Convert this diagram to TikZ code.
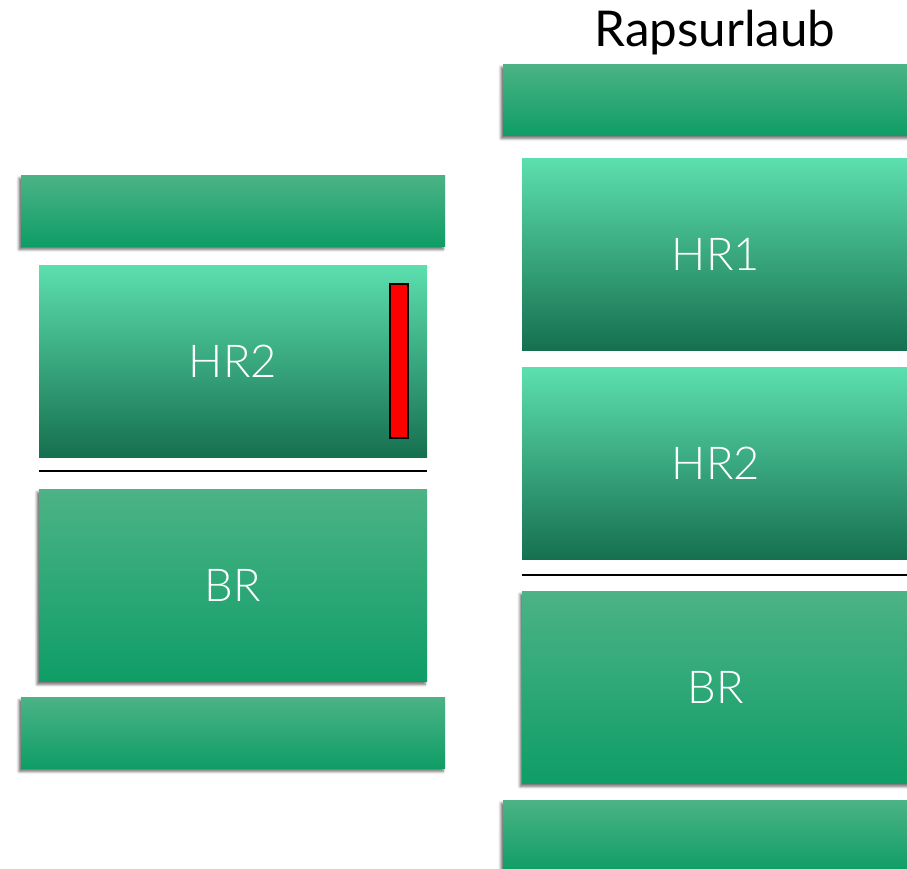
\documentclass[tikz,border=0pt]{standalone}
\usepackage{fontspec}
\setmainfont{Lato}
\IfFontExistsTF{Lato Light}{\newfontfamily\boxfont{Lato Light}}{\newfontfamily\boxfont{Lato}}
\usetikzlibrary{shadows.blur}
\definecolor{hrtop}{HTML}{5CDFAE}
\definecolor{hrmid}{HTML}{2AB57F}
\definecolor{hrbot}{HTML}{167050}
\definecolor{bartop}{HTML}{4CB386}
\definecolor{barmid}{HTML}{18AC72}
\definecolor{barbot}{HTML}{0F9D66}
\tikzset{
  shad/.style={blur shadow={shadow xshift=-1.5pt, shadow yshift=-2.5pt, shadow blur steps=6, shadow opacity=60}},
  barbox/.style={shad, rectangle, inner sep=0pt, minimum width=318pt, minimum height=53.25pt,
    top color=bartop, middle color=barmid, bottom color=barbot},
  hrbox/.style={rectangle, inner sep=0pt, minimum width=291pt, minimum height=144pt,
    top color=hrtop, middle color=hrmid, bottom color=hrbot, text=white, font=\boxfont\fontsize{34}{40}\selectfont},
  brbox/.style={shad, rectangle, inner sep=0pt, minimum width=291pt, minimum height=144pt,
    top color=bartop, middle color=barmid, bottom color=barbot, text=white, font=\boxfont\fontsize{34}{40}\selectfont},
  sepline/.style={line width=2pt, black},
}
\begin{document}
\begin{tikzpicture}[x=0.75pt,y=-0.75pt]
\useasboundingbox (0,0) rectangle (907,868);
\clip (0,0) rectangle (907,868);
% left column
\node[barbox] (ltop) at (233,210.5) {};
\node[hrbox] (lhr2) at (233,361) {HR2};
\node[rectangle, draw=black, line width=1.5pt, fill=red, inner sep=0pt,
      minimum width=13.5pt, minimum height=115.5pt] (red) at (398.5,360.5) {};
\coordinate (lla) at (39,471);
\coordinate (llb) at (427,471);
\draw[sepline] (lla) -- (llb);
\node[brbox] (lbr) at (233,585) {BR};
\node[barbox] (lbot) at (233,732.5) {};
% right column
\node[anchor=base, font=\fontsize{37}{42}\selectfont] (title) at (715,46) {Rapsurlaub};
\node[barbox] (rtop) at (715,99.5) {};
\node[hrbox] (rhr1) at (716,254) {HR1};
\node[hrbox] (rhr2) at (716,463.5) {HR2};
\coordinate (rla) at (522,575);
\coordinate (rlb) at (910,575);
\draw[sepline] (rla) -- (rlb);
\node[brbox] (rbr) at (716,687) {BR};
\node[barbox] (rbot) at (715,835.5) {};
\end{tikzpicture}
\end{document}
